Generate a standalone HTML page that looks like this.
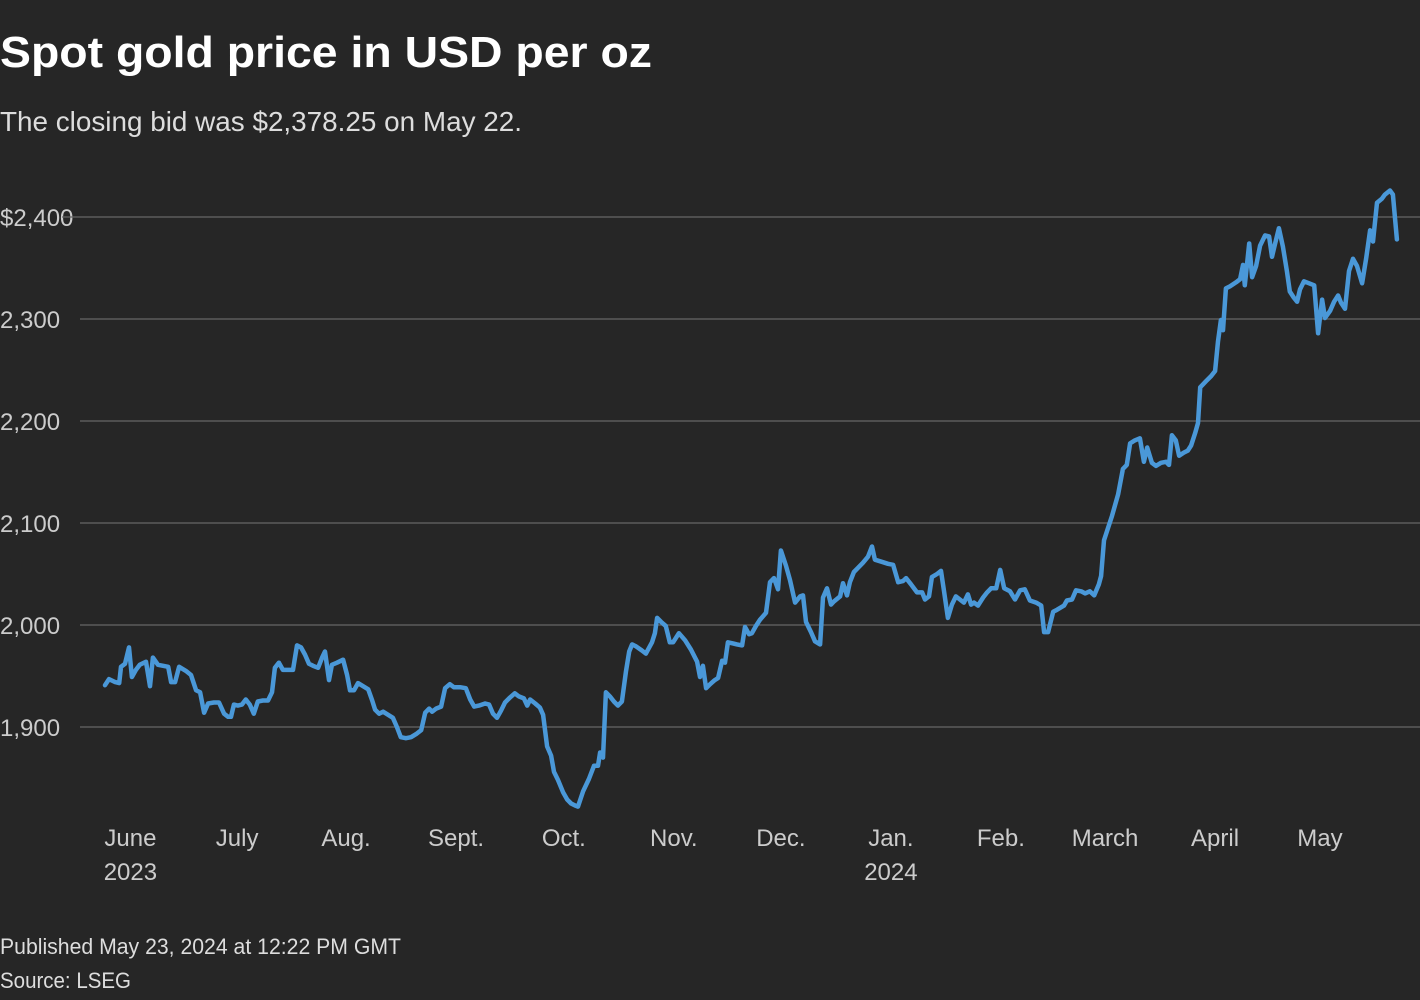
<!DOCTYPE html>
<html><head><meta charset="utf-8"><style>
html,body{margin:0;padding:0;background:#262626;}
svg{display:block;font-family:"Liberation Sans",sans-serif;}
</style></head><body>
<svg id="chart" width="1420" height="1000" viewBox="0 0 1420 1000">
<rect x="0" y="0" width="1420" height="1000" fill="#262626"/>
<text x="0" y="67" font-size="44" font-weight="bold" fill="#fff" textLength="652" lengthAdjust="spacingAndGlyphs">Spot gold price in USD per oz</text>
<text x="0" y="131" font-size="28" fill="#ddd" textLength="522" lengthAdjust="spacingAndGlyphs">The closing bid was $2,378.25 on May 22.</text>
<g id="grid"></g>
<g id="xaxis"></g>
<g id="series"></g>
<text x="0" y="954" font-size="22" fill="#ddd" textLength="401" lengthAdjust="spacingAndGlyphs">Published May 23, 2024 at 12:22 PM GMT</text>
<text x="0" y="988" font-size="22" fill="#ddd" textLength="131" lengthAdjust="spacingAndGlyphs">Source: LSEG</text>
</svg>
<script>
const days=[0,1.1,2.8,3.9,4.4,5.5,6.6,7.4,8.5,9.6,11.3,12.4,13.2,14.6,16.0,17.4,18.2,19.3,20.4,22.3,23.7,25.1,26.2,27.3,28.4,30.0,31.4,32.8,33.9,34.7,35.5,36.6,37.7,38.8,39.9,41.0,42.1,43.5,44.9,46.0,46.8,47.9,49.0,50.1,51.8,52.9,54.0,55.1,56.2,57.3,58.7,59.8,60.6,61.7,62.5,63.9,65.6,66.7,67.5,68.6,69.7,71.1,72.5,73.6,74.4,75.5,76.6,78.0,79.3,80.4,81.5,82.9,84.3,85.7,87.1,88.2,89.3,90.1,91.2,92.6,93.7,95.0,96.1,97.8,99.4,100.6,101.7,103.0,104.7,105.8,106.9,108.0,109.1,110.2,111.6,112.9,114.0,115.4,116.3,117.1,118.5,119.8,120.7,121.8,122.9,123.7,124.8,126.2,127.3,128.4,129.5,130.3,131.7,133.3,134.7,135.8,136.4,137.2,138.0,139.1,140.2,141.3,142.4,143.5,144.4,145.2,146.3,147.9,149.0,150.7,151.5,152.1,153.2,154.5,155.6,156.5,158.1,159.8,161.4,163.1,163.9,164.7,165.6,166.7,168.0,168.9,170.0,170.8,171.6,173.0,174.1,175.5,176.3,177.4,178.2,179.3,180.4,182.1,183.2,184.3,185.4,186.2,187.6,188.7,190.1,191.5,192.3,193.1,194.5,195.6,197.0,197.8,198.9,200.0,200.8,202.5,203.3,204.4,205.2,206.3,207.4,208.8,210.2,211.3,212.1,214.0,215.7,217.1,218.5,219.8,220.7,222.0,223.7,225.1,225.9,227.0,227.8,229.2,230.3,231.1,232.2,233.3,234.4,235.5,236.6,237.7,238.6,239.4,240.5,241.9,243.0,244.1,245.5,246.6,247.7,249.3,250.7,252.1,253.4,254.8,256.5,257.9,258.7,259.8,261.2,262.3,264.2,265.0,266.4,267.5,268.9,270.0,271.3,272.5,273.8,274.4,275.2,276.3,277.4,279.1,280.4,281.5,282.4,283.7,285.1,286.2,287.1,288.4,289.5,290.9,292.3,293.1,293.9,295.0,295.9,297.2,298.3,299.2,300.3,301.1,301.7,303.3,304.7,305.8,306.6,307.4,308.0,308.8,309.9,311.6,312.7,313.5,314.0,315.2,316.0,317.1,318.2,319.6,320.7,321.5,322.3,323.4,324.5,325.6,326.4,327.5,328.4,329.2,330.3,331.7,333.1,334.2,335.3,336.1,337.5,338.6,339.7,340.5,341.6,342.7,343.8,344.9,346.3,347.4,348.5,349.3,350.4,351.8,352.6,354.0,354.8,355.9];
const prices=[1941,1947,1944,1943,1959,1962,1978,1949,1956,1961,1964,1940,1968,1961,1960,1959,1944,1944,1959,1955,1951,1936,1934,1914,1923,1924,1924,1913,1910,1910,1922,1921,1922,1927,1922,1913,1925,1926,1926,1934,1958,1963,1956,1956,1956,1980,1978,1971,1962,1960,1958,1968,1974,1946,1961,1963,1966,1951,1936,1936,1943,1940,1937,1926,1917,1913,1915,1912,1909,1900,1890,1889,1890,1893,1897,1914,1918,1915,1918,1920,1938,1942,1939,1939,1938,1927,1920,1921,1923,1922,1913,1909,1916,1924,1929,1933,1930,1928,1921,1927,1923,1919,1912,1881,1872,1856,1848,1836,1829,1825,1823,1822,1837,1849,1862,1862,1875,1870,1934,1930,1925,1921,1925,1954,1974,1981,1979,1975,1972,1983,1992,2007,2003,1999,1983,1983,1992,1985,1976,1964,1949,1960,1938,1942,1946,1948,1965,1963,1983,1982,1981,1980,1998,1991,1992,1999,2005,2012,2042,2046,2035,2073,2058,2044,2022,2028,2029,2003,1993,1984,1981,2027,2036,2020,2023,2028,2041,2029,2042,2052,2056,2061,2067,2077,2064,2062,2060,2059,2042,2043,2046,2040,2032,2032,2025,2028,2047,2050,2053,2034,2007,2020,2028,2025,2022,2030,2020,2022,2019,2027,2032,2036,2036,2054,2036,2033,2025,2034,2035,2024,2022,2019,1993,1993,2013,2015,2019,2024,2025,2034,2033,2031,2033,2029,2040,2048,2083,2095,2107,2128,2153,2157,2178,2181,2183,2160,2174,2159,2156,2159,2160,2157,2186,2181,2166,2169,2171,2176,2188,2198,2233,2239,2244,2249,2278,2299,2289,2330,2332,2336,2339,2353,2333,2374,2341,2352,2372,2382,2381,2361,2373,2389,2371,2347,2327,2321,2317,2329,2337,2335,2333,2286,2319,2301,2308,2317,2323,2316,2310,2347,2359,2352,2335,2359,2387,2376,2414,2418,2422,2426,2422,2378];
const yTicks=[1900,2000,2100,2200,2300,2400];
const yTickLabels=["1,900","2,000","2,100","2,200","2,300","$2,400"];
const monthLabels=["June","July","Aug.","Sept.","Oct.","Nov.","Dec.","Jan.","Feb.","March","April","May"];
const monthDays=[7,36.4,66.4,96.7,126.4,156.7,186.2,216.5,246.8,275.5,305.8,334.7];
const yearLabels=["2023","","","","","","","2024","","","",""];
const NS="http://www.w3.org/2000/svg";
const xs=d=>105+d*3.63;
const ys=v=>217+(2400-v)*1.02;
const grid=document.getElementById('grid');
yTicks.forEach((v,i)=>{
  const lbl=yTickLabels[i];
  const t=document.createElementNS(NS,'text');
  
  
  t.setAttribute('x',0);t.setAttribute('y',ys(v)+9);
  t.setAttribute('font-size','24');t.setAttribute('fill','#ccc');
  t.textContent=lbl;grid.appendChild(t);
  const l=document.createElementNS(NS,'line');
  
  
  const x0=lbl.length>5?62:80;
  l.setAttribute('x1',x0);l.setAttribute('x2',1420);
  l.setAttribute('y1',ys(v));l.setAttribute('y2',ys(v));
  l.setAttribute('stroke','#666');l.setAttribute('stroke-width','1.2');
  grid.appendChild(l);
});
const xa=document.getElementById('xaxis');
monthLabels.forEach((m,i)=>{
  const t=document.createElementNS(NS,'text');
  
  
  t.setAttribute('x',xs(monthDays[i]));t.setAttribute('y',846);
  t.setAttribute('text-anchor','middle');t.setAttribute('font-size','24');t.setAttribute('fill','#ccc');
  t.textContent=m;xa.appendChild(t);
  if(yearLabels[i]){
    const y=document.createElementNS(NS,'text');
    
    
    y.setAttribute('x',xs(monthDays[i]));y.setAttribute('y',880);
    y.setAttribute('text-anchor','middle');y.setAttribute('font-size','24');y.setAttribute('fill','#ccc');
    y.textContent=yearLabels[i];xa.appendChild(y);
  }
});
const p=document.createElementNS(NS,'path');


p.setAttribute('d',days.map((d,i)=>(i?'L':'M')+xs(d).toFixed(1)+','+ys(prices[i]).toFixed(1)).join(''));
p.setAttribute('fill','none');p.setAttribute('stroke','#4a98d8');p.setAttribute('stroke-width','4.5');
p.setAttribute('stroke-linejoin','round');p.setAttribute('stroke-linecap','round');
document.getElementById('series').appendChild(p);
</script>
</body></html>
